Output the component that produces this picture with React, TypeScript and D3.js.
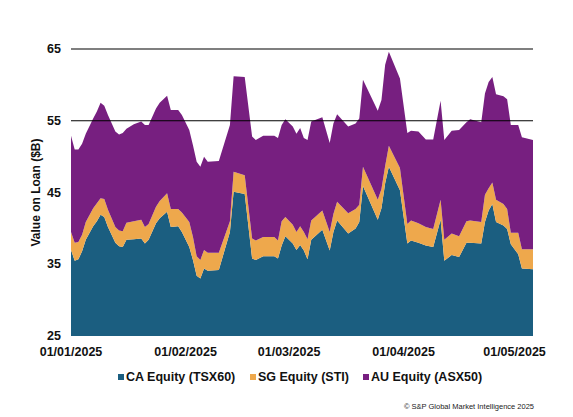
import * as d3 from "d3";

const dates = [
  "2025-01-01", "2025-01-02", "2025-01-03", "2025-01-04", "2025-01-05", "2025-01-07", "2025-01-08",
  "2025-01-09", "2025-01-10", "2025-01-11", "2025-01-13", "2025-01-14", "2025-01-15", "2025-01-16",
  "2025-01-18", "2025-01-20", "2025-01-21", "2025-01-22", "2025-01-24", "2025-01-25", "2025-01-27",
  "2025-01-28", "2025-01-30", "2025-01-31", "2025-02-02", "2025-02-03", "2025-02-04", "2025-02-05",
  "2025-02-06", "2025-02-07", "2025-02-10", "2025-02-13", "2025-02-14", "2025-02-17", "2025-02-19",
  "2025-02-20", "2025-02-22", "2025-02-25", "2025-02-26", "2025-02-27", "2025-02-28", "2025-03-02",
  "2025-03-03", "2025-03-04", "2025-03-05", "2025-03-06", "2025-03-07", "2025-03-10", "2025-03-12",
  "2025-03-13", "2025-03-14", "2025-03-17", "2025-03-19", "2025-03-20", "2025-03-21", "2025-03-25",
  "2025-03-26", "2025-03-27", "2025-03-28", "2025-03-31", "2025-04-02", "2025-04-03", "2025-04-05",
  "2025-04-07", "2025-04-09", "2025-04-11", "2025-04-12", "2025-04-14", "2025-04-16", "2025-04-18",
  "2025-04-19", "2025-04-22", "2025-04-23", "2025-04-24", "2025-04-25", "2025-04-26", "2025-04-28",
  "2025-04-29", "2025-04-30", "2025-05-02", "2025-05-03", "2025-05-06",
];

// CA Equity (TSX60)
const caValues = [
  37.0, 35.5, 35.7, 36.8, 38.4, 40.3, 41.0, 41.9, 41.6, 40.2, 38.0, 37.5, 37.4, 38.4,
  38.5, 38.6, 37.9, 38.4, 40.7, 41.4, 42.3, 40.2, 40.3, 39.5, 37.4, 35.6, 33.4, 33.0,
  34.4, 34.1, 34.2, 39.5, 45.1, 44.8, 35.8, 35.6, 36.1, 36.1, 35.8, 37.6, 38.9, 37.9,
  37.0, 37.7, 36.9, 35.7, 38.4, 39.8, 36.9, 39.5, 41.1, 39.3, 40.0, 40.9, 45.9, 41.2,
  42.8, 46.3, 48.6, 45.3, 37.9, 38.3, 38.0, 37.6, 37.4, 41.2, 35.5, 36.3, 36.0, 38.0,
  38.0, 37.9, 40.9, 42.5, 43.4, 40.9, 40.4, 39.9, 37.8, 36.4, 34.4, 34.3,
];

// SG Equity (STI)
const sgValues = [
  2.5, 2.5, 2.4, 2.3, 2.5, 2.5, 2.5, 2.3, 2.5, 2.4, 2.2, 2.2, 2.2, 2.4,
  2.5, 2.6, 2.3, 2.2, 2.3, 2.4, 2.6, 2.5, 2.4, 2.7, 3.5, 3.2, 2.7, 2.6,
  2.6, 2.5, 2.4, 1.5, 2.8, 2.6, 2.8, 2.7, 2.7, 2.7, 2.5, 3.4, 2.7, 2.6,
  2.5, 2.6, 2.6, 2.8, 2.7, 2.7, 2.6, 2.5, 2.6, 2.8, 2.7, 2.4, 2.7, 2.8,
  2.7, 2.4, 2.9, 3.1, 2.7, 2.8, 2.7, 2.6, 2.5, 2.8, 2.9, 3.0, 2.9, 3.0,
  3.1, 3.0, 3.8, 3.1, 3.0, 3.1, 3.0, 2.8, 1.6, 3.0, 2.7, 2.8,
];

// AU Equity (ASX50)
const auValues = [
  13.4, 13.0, 12.9, 12.7, 12.3, 12.5, 12.8, 13.3, 13.0, 13.2, 13.3, 13.4, 13.7, 13.1,
  13.5, 13.7, 14.2, 13.8, 13.7, 13.7, 13.6, 13.8, 13.8, 13.6, 12.8, 12.8, 13.2, 13.0,
  13.0, 12.7, 12.8, 13.4, 13.3, 13.7, 14.2, 14.0, 14.1, 14.1, 14.3, 13.4, 13.6, 13.7,
  13.7, 13.7, 13.1, 13.8, 13.8, 13.0, 12.4, 12.6, 12.2, 12.1, 11.9, 12.0, 12.1, 12.4,
  12.4, 14.1, 13.1, 12.5, 12.7, 12.5, 12.8, 12.2, 12.5, 13.8, 13.9, 14.3, 14.8, 13.8,
  14.1, 13.9, 14.1, 14.8, 14.7, 14.7, 15.0, 15.3, 15.0, 15.0, 15.6, 15.2,
];

const seriesKeys = ["ca", "sg", "au"];
const seriesLabels = ["CA Equity (TSX60)", "SG Equity (STI)", "AU Equity (ASX50)"];
const seriesColors = ["#1b5e80", "#eea84c", "#771f80"];

const yTicks = [25, 35, 45, 55, 65];
const gridValues = [55, 65];
const xTickDates = ["2025-01-01", "2025-02-01", "2025-03-01", "2025-04-01", "2025-05-01"];

const W = 573;
const H = 417;
const margin = { left: 71, right: 40, top: 49, bottom: 81 };

const parse = d3.utcParse("%Y-%m-%d");
const fmt = d3.utcFormat("%d/%m/%Y");

type Row = { date: Date; ca: number; sg: number; au: number };

export default function App() {
  const rows: Row[] = dates.map((d, i) => ({
    date: parse(d)!,
    ca: caValues[i],
    sg: sgValues[i],
    au: auValues[i],
  }));

  const x = d3
    .scaleUtc()
    .domain([parse("2025-01-01")!, parse("2025-05-06")!])
    .range([margin.left, W - margin.right]);
  const y = d3
    .scaleLinear()
    .domain([25, 65])
    .range([H - margin.bottom, margin.top])
    .clamp(true);

  const stacked = d3.stack<Row>().keys(seriesKeys)(rows);
  const area = d3
    .area<d3.SeriesPoint<Row>>()
    .x((d) => x(d.data.date))
    .y0((d) => y(d[0]))
    .y1((d) => y(d[1]));

  const font = "Arial, 'Liberation Sans', sans-serif";
  const legendX = [118, 250, 363];

  return (
    <svg
      width={W}
      height={H}
      viewBox={`0 0 ${W} ${H}`}
      style={{ position: "absolute", left: 0, top: 0, background: "#fff" }}
      fontFamily={font}
    >
      {stacked.map((s, i) => (
        <path key={s.key} d={area(s) ?? ""} fill={seriesColors[i]} />
      ))}

      {gridValues.map((v) => (
        <line
          key={v}
          x1={margin.left}
          x2={W - margin.right}
          y1={y(v)}
          y2={y(v)}
          stroke="#000"
          strokeWidth={1.2}
        />
      ))}

      {yTicks.map((v) => (
        <text
          key={v}
          x={61}
          y={y(v)}
          textAnchor="end"
          dominantBaseline="central"
          fontSize={12.5}
          fontWeight="bold"
          fill="#111"
        >
          {v}
        </text>
      ))}

      {xTickDates.map((d) => (
        <text
          key={d}
          x={x(parse(d)!)}
          y={352}
          textAnchor="middle"
          dominantBaseline="central"
          fontSize={12.5}
          fontWeight="bold"
          fill="#111"
        >
          {fmt(parse(d)!)}
        </text>
      ))}

      <text
        transform={`translate(36, ${(y(25) + y(65)) / 2}) rotate(-90)`}
        textAnchor="middle"
        dominantBaseline="central"
        fontSize={12}
        fontWeight="bold"
        fill="#111"
      >
        Value on Loan ($B)
      </text>

      {seriesLabels.map((label, i) => (
        <g key={label} transform={`translate(${legendX[i]}, 377)`}>
          <rect x={0} y={-3} width={6} height={6} fill={seriesColors[i]} />
          <text
            x={8}
            y={0}
            dominantBaseline="central"
            fontSize={12.5}
            fontWeight="bold"
            fill="#111"
          >
            {label}
          </text>
        </g>
      ))}

      <text x={534} y={406} textAnchor="end" dominantBaseline="central" fontSize={7.5} fill="#222">
        © S&amp;P Global Market Intelligence 2025
      </text>
    </svg>
  );
}
